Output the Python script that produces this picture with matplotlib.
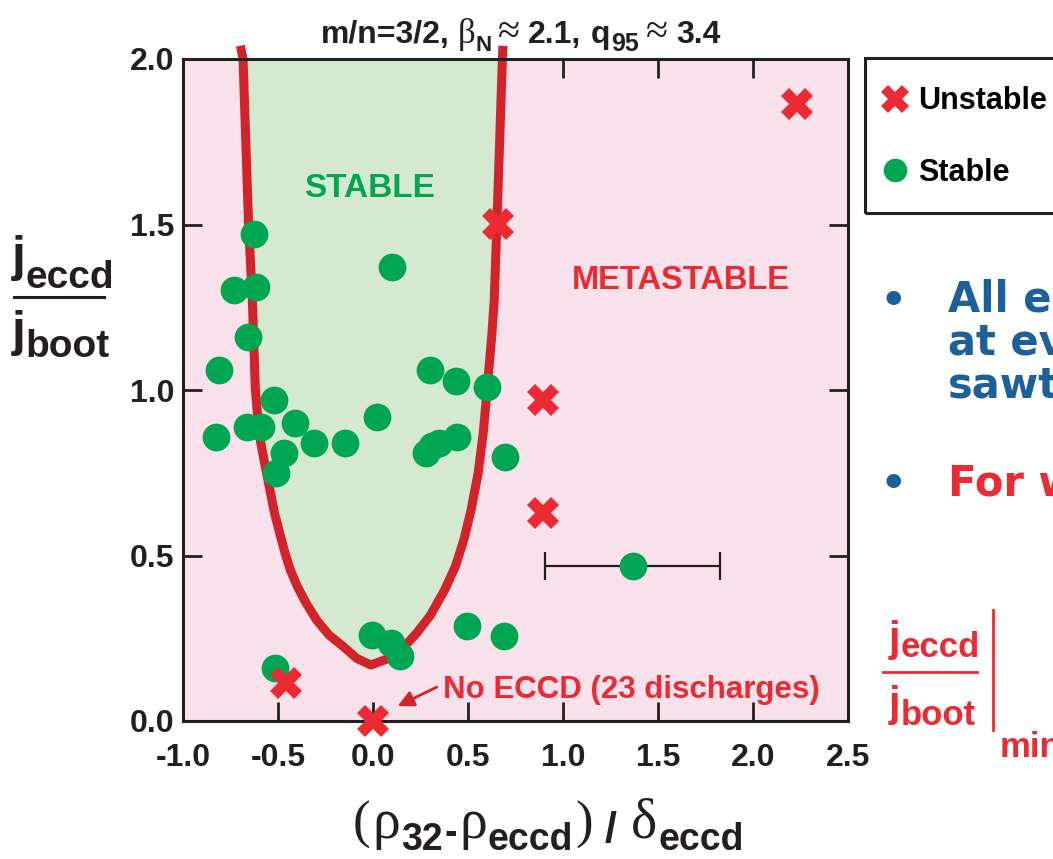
import matplotlib
matplotlib.use('Agg')
import matplotlib.pyplot as plt
from matplotlib.lines import Line2D
from matplotlib.patches import Rectangle
from matplotlib.ticker import MultipleLocator, FormatStrFormatter

# stable discharges (green dots)
stable_x = [-0.626, -0.73, -0.616, -0.657, -0.808, 0.10, -0.522, -0.828, -0.662, -0.592,
            -0.411, -0.309, -0.149, -0.471, -0.509, 0.021, 0.298, 0.438, 0.598, 0.281,
            0.31, 0.349, 0.442, 0.696, -0.005, 0.095, 0.142, 0.495, 0.687, -0.518]
stable_y = [1.471, 1.302, 1.311, 1.159, 1.060, 1.372, 0.970, 0.859, 0.889, 0.889,
            0.899, 0.839, 0.839, 0.811, 0.748, 0.919, 1.060, 1.028, 1.010, 0.809,
            0.83, 0.839, 0.859, 0.799, 0.260, 0.235, 0.196, 0.288, 0.258, 0.159]

# the one with a horizontal error bar
eb_x, eb_y = 1.368, 0.469
eb_lo, eb_hi = 0.907, 1.826

# unstable discharges (red crosses)
unstable_x = [2.232, 0.658, 0.897, 0.897, -0.457, 0.0]
unstable_y = [1.864, 1.501, 0.970, 0.627, 0.114, 0.0]

# stability boundary, left branch top->bottom then right branch bottom->top
curve_x = [-0.698, -0.684, -0.655, -0.635, -0.62, -0.60, -0.574, -0.546, -0.518, -0.491,
           -0.463, -0.435, -0.398, -0.352, -0.297, -0.232, -0.167, -0.085, -0.011,
           0.082, 0.155, 0.229, 0.303, 0.377, 0.433, 0.478, 0.516, 0.553, 0.580,
           0.602, 0.626, 0.638, 0.652, 0.681, 0.684]
curve_y = [2.04, 2.0, 1.5, 1.272, 1.01, 0.869, 0.789, 0.708, 0.627, 0.567,
           0.507, 0.456, 0.406, 0.356, 0.305, 0.26, 0.23, 0.189, 0.169,
           0.189, 0.219, 0.265, 0.320, 0.396, 0.466, 0.547, 0.637, 0.748, 0.869,
           1.010, 1.171, 1.272, 1.5, 2.0, 2.04]

W, H = 1053, 859
PINK = '#F9E1EB'
GFILL = '#D5E8D0'
RLINE = '#D2232A'
GREEN = '#00A651'
RED = '#EC2A33'
BLUE = '#1B5F9B'
INK = '#231F20'
SANS = 'Liberation Sans'
SERIF = 'Liberation Serif'

plt.rcParams['axes.unicode_minus'] = False

fig = plt.figure(figsize=(W / 100, H / 100), dpi=100)
ax = fig.add_axes([183 / W, 1 - 721 / H, 665 / W, 662 / H])
ax.set_facecolor(PINK)

ax.fill(curve_x, curve_y, color=GFILL, zorder=3, lw=0)
ax.plot(curve_x, curve_y, color=RLINE, lw=6.5, zorder=4, clip_on=False,
        solid_capstyle='butt', solid_joinstyle='round')

ax.errorbar([eb_x], [eb_y], xerr=[[eb_x - eb_lo], [eb_hi - eb_x]], fmt='none',
            ecolor=INK, elinewidth=1.6, capsize=10, capthick=1.6, zorder=5)
ax.plot(stable_x + [eb_x], stable_y + [eb_y], 'o', color=GREEN, ms=20, mew=0, zorder=6)
ax.plot(unstable_x, unstable_y, 'X', color=RED, ms=23, mew=0, zorder=7, clip_on=False)

ax.set_xlim(-1.0, 2.5)
ax.set_ylim(0.0, 2.0)
ax.xaxis.set_major_locator(MultipleLocator(0.5))
ax.yaxis.set_major_locator(MultipleLocator(0.5))
ax.xaxis.set_major_formatter(FormatStrFormatter('%.1f'))
ax.yaxis.set_major_formatter(FormatStrFormatter('%.1f'))
ax.tick_params(direction='in', length=14, width=2, color=INK,
               top=True, right=True, labelsize=23)
ax.tick_params(axis='x', pad=16)
ax.tick_params(axis='y', pad=6)
for lab in ax.get_xticklabels() + ax.get_yticklabels():
    lab.set_family(SANS)
    lab.set_fontweight('bold')
    lab.set_color(INK)
for sp in ax.spines.values():
    sp.set_linewidth(2.2)
    sp.set_color(INK)
    sp.set_zorder(5)

ax.text(-0.02, 1.61, 'STABLE', color=GREEN, fontsize=24, fontweight='bold',
        family=SANS, ha='center', va='center', zorder=8)
ax.text(1.62, 1.33, 'METASTABLE', color=RED, fontsize=23.5, fontweight='bold',
        family=SANS, ha='center', va='center', zorder=8)
ax.annotate('No ECCD (23 discharges)', xy=(0.13, 0.045), xytext=(0.37, 0.094),
            color=RED, fontsize=22.5, fontweight='bold', family=SANS,
            ha='left', va='center', zorder=8,
            arrowprops=dict(arrowstyle='-|>', color=RLINE, lw=2, mutation_scale=24,
                            shrinkA=3, shrinkB=0, relpos=(0, 0.7)))

renderer = fig.canvas.get_renderer()


def chain(pieces, x, ybase, color=INK, ha='left'):
    # pieces: (string, size, family, weight, dy below baseline px, gap px)
    made = []
    for s, size, fam, weight, dy, gap in pieces:
        t = fig.text(0, 1 - (ybase + dy) / H, s, fontsize=size, family=fam,
                     fontweight=weight, color=color, ha='left', va='baseline')
        made.append((t, gap, t.get_window_extent(renderer).width))
    total = sum(g + w for _, g, w in made)
    cur = x - total / 2 if ha == 'center' else x
    for t, g, w in made:
        cur += g
        t.set_x(cur / W)
        cur += w


# title
chain([('m/n=3/2,', 23, SANS, 'bold', 0, 0),
       ('\u03b2', 25, SERIF, 'normal', 0, 8),
       ('N', 16, SANS, 'bold', 8, 0),
       ('\u2248', 29, SERIF, 'normal', 0, 6),
       ('2.1,', 23, SANS, 'bold', 0, 8),
       ('q', 23, SANS, 'bold', 0, 10),
       ('95', 18, SANS, 'bold', 8, 1),
       ('\u2248', 29, SERIF, 'normal', 0, 7),
       ('3.4', 23, SANS, 'bold', 0, 8)],
      321, 43)

# x label
chain([('(', 38, SERIF, 'normal', 0, 0),
       ('\u03c1', 40, SERIF, 'normal', 0, 2),
       ('32', 27, SANS, 'bold', 12, 1),
       ('-', 27, SANS, 'bold', 6, 2),
       ('\u03c1', 40, SERIF, 'normal', 0, 2),
       ('eccd', 27, SANS, 'bold', 12, 1),
       (')', 38, SERIF, 'normal', 0, 2),
       ('/', 31, SANS, 'bold', 4, 12),
       ('\u03b4', 40, SERIF, 'normal', 0, 14),
       ('eccd', 27, SANS, 'bold', 12, 1)],
      548, 838, ha='center')

# y label as a fraction
chain([('j', 36, SANS, 'bold', 0, 0), ('eccd', 28, SANS, 'bold', 17, 0)], 12, 271)
fig.add_artist(Line2D([14 / W, 104 / W], [1 - 297 / H, 1 - 297 / H], color=INK, lw=2.2))
chain([('j', 36, SANS, 'bold', 0, 0), ('boot', 28, SANS, 'bold', 11, 0)], 12, 346)

# legend box
fig.add_artist(Rectangle((865 / W, 1 - 213 / H), 220 / W, 155 / H, fill=False,
                         lw=2.2, edgecolor=INK))
handles = [Line2D([], [], marker='X', color=RED, ms=20, mew=0, ls='none'),
           Line2D([], [], marker='o', color=GREEN, ms=17, mew=0, ls='none')]
fig.legend(handles, ['Unstable', 'Stable'], loc='upper left',
           bbox_to_anchor=(866 / W, 1 - 71 / H), frameon=False,
           prop=dict(family=SANS, weight='bold', size=22),
           handlelength=0.9, handletextpad=0.3, labelspacing=1.35, borderpad=0)

# cropped slide text on the right
BUL = 'DejaVu Sans'
fig.text(893 / W, 1 - 316 / H, '\u2022', color=BLUE, fontsize=36, ha='center', va='baseline')
fig.text(948 / W, 1 - 312 / H, 'All eccd', color=BLUE, fontsize=30,
         fontweight='bold', family=BUL, va='baseline')
fig.text(948 / W, 1 - 355 / H, 'at every', color=BLUE, fontsize=30,
         fontweight='bold', family=BUL, va='baseline')
fig.text(948 / W, 1 - 398 / H, 'sawtooth', color=BLUE, fontsize=30,
         fontweight='bold', family=BUL, va='baseline')
fig.text(893 / W, 1 - 499 / H, '\u2022', color=BLUE, fontsize=36, ha='center', va='baseline')
fig.text(948 / W, 1 - 495 / H, 'For \u1e87', color=RED, fontsize=30,
         fontweight='bold', family=BUL, va='baseline')

chain([('j', 30, SANS, 'bold', 0, 0), ('eccd', 25, SANS, 'bold', 6, 0)], 889, 651, color=RED)
fig.add_artist(Line2D([883 / W, 977 / W], [1 - 672 / H, 1 - 672 / H], color=RED, lw=2))
chain([('j', 30, SANS, 'bold', 0, 0), ('boot', 25, SANS, 'bold', 9, 0)], 889, 716, color=RED)
fig.add_artist(Line2D([993 / W, 993 / W], [1 - 610 / H, 1 - 730 / H], color=RED, lw=2))
fig.text(1000 / W, 1 - 757 / H, 'min', color=RED, fontsize=25, fontweight='bold',
         family=SANS, va='baseline')

fig.savefig('out.png', dpi=100)
